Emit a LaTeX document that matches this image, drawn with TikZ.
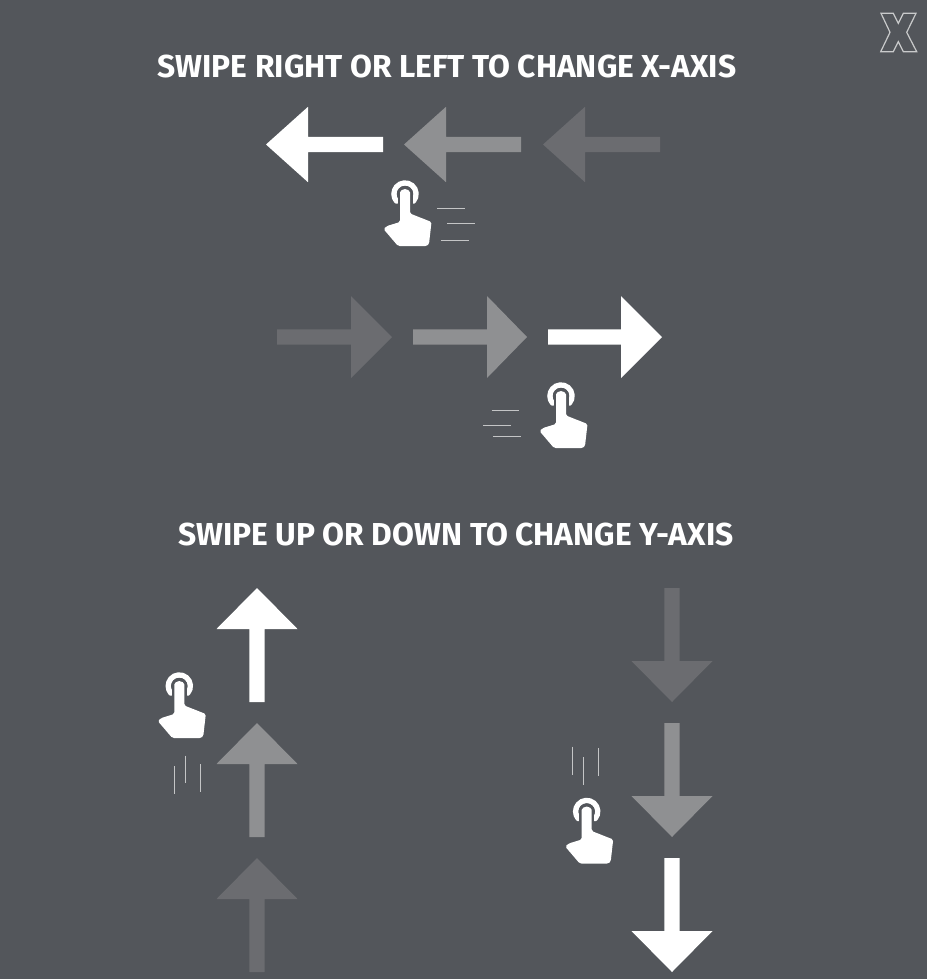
\documentclass[tikz,border=0pt]{standalone}
\usepackage{fontspec}
\setmainfont{Fira Sans}
\definecolor{bgc}{HTML}{53565B}
\definecolor{midc}{HTML}{8F9092}
\definecolor{dimc}{HTML}{6B6C70}
\definecolor{xc}{HTML}{C9CACB}
\definecolor{linec}{HTML}{C4C5C6}
\tikzset{
  title/.style={text=white,font=\fontsize{23.8}{28}\selectfont\bfseries,inner sep=0pt,anchor=center},
  swipeline/.style={draw=linec,line width=.75pt},
  pics/arrowshape/.style args={#1/#2/#3/#4}{code={
    % points in +x direction; tip at origin; #1 length, #2 head length, #3 half width
    \fill[#4] (0,0) -- (-#2,#3) -- (-#2,7.7) -- (-#1,7.7) -- (-#1,-7.7) -- (-#2,-7.7) -- (-#2,-#3) -- cycle;
  }},
  pics/hand/.style={code={
    \draw[white,line width=4.1pt,line cap=round] ([shift={(0,-1)}]40:11) arc[start angle=40,end angle=-220,radius=11];
    \fill[bgc] (-7.5,-1) rectangle (7.5,9);
    \fill[bgc] (0,-1) circle[radius=8.2];
    \fill[white,rounded corners=1.2pt] (-5,-1) arc[start angle=180,end angle=360,radius=5] -- (5,18.5) -- (26.5,27) -- (24,49) -- (22,51) -- (-7,51) -- (-21.5,34) -- (-18,31) -- (-5,27) -- cycle;
  }}
}
\begin{document}
\begin{tikzpicture}[yscale=-1,x=.75pt,y=.75pt]
\useasboundingbox (0,0) rectangle (927,979);
\fill[bgc] (0,0) rectangle (927,979);
\draw[xc,line width=.9pt,line join=miter] (881,13.3) -- (893.3,13.3) -- (898.3,23.3) -- (903.3,13.3) -- (916,13.3) -- (906.7,32.3) -- (916.7,51.7) -- (903.3,51.7) -- (898.3,41.7) -- (893.3,51.7) -- (880.7,51.7) -- (890,32.3) -- cycle;
\pic[transform shape,rotate=180] at (266,144.5) {arrowshape={117/42/37.7/white}};
\pic[transform shape,rotate=180] at (404,144.5) {arrowshape={117/42/37.7/midc}};
\pic[transform shape,rotate=180] at (543,144.5) {arrowshape={117/42/37.7/dimc}};
% right arrows
\pic[transform shape] at (392,337) {arrowshape={115/41/41/dimc}};
\pic[transform shape] at (527,337) {arrowshape={114/40/41/midc}};
\pic[transform shape] at (662,337) {arrowshape={114/41/41/white}};
% up arrows
\pic[transform shape,rotate=-90] at (257,588) {arrowshape={114/41/40.5/white}};
\pic[transform shape,rotate=-90] at (257,723) {arrowshape={114/41/40.5/midc}};
\pic[transform shape,rotate=-90] at (257,858) {arrowshape={114/41/40.5/dimc}};
% down arrows
\pic[transform shape,rotate=90] at (672,702) {arrowshape={114/41/40.5/dimc}};
\pic[transform shape,rotate=90] at (672,837) {arrowshape={114/41/40.5/midc}};
\pic[transform shape,rotate=90] at (672,972) {arrowshape={114/41/40.5/white}};
% hands
\pic[transform shape] at (405,195) {hand};
\pic[transform shape] at (561,397) {hand};
\pic[transform shape] at (179.3,687) {hand};
\pic[transform shape] at (586.7,812.5) {hand};
% swipe lines
\draw[swipeline] (437,208) -- (465,208) (447,223.5) -- (475,223.5) (441,240.5) -- (469,240.5);
\draw[swipeline] (491.7,410) -- (519,410) (483,425) -- (510.7,425) (493,436.5) -- (521,436.5);
\draw[swipeline] (174.3,766) -- (174.3,793.5) (185.7,755.7) -- (185.7,783.3) (200.3,764) -- (200.3,791.7);
\draw[swipeline] (572.7,746.7) -- (572.7,775) (583.7,757.3) -- (583.7,785) (598.3,748.3) -- (598.3,776.3);
\node[title] (t1) at (447,66) {SWIPE RIGHT OR LEFT TO CHANGE X-AXIS};
\node[title] (t2) at (456,534) {SWIPE UP OR DOWN TO CHANGE Y-AXIS};
\end{tikzpicture}
\end{document}
